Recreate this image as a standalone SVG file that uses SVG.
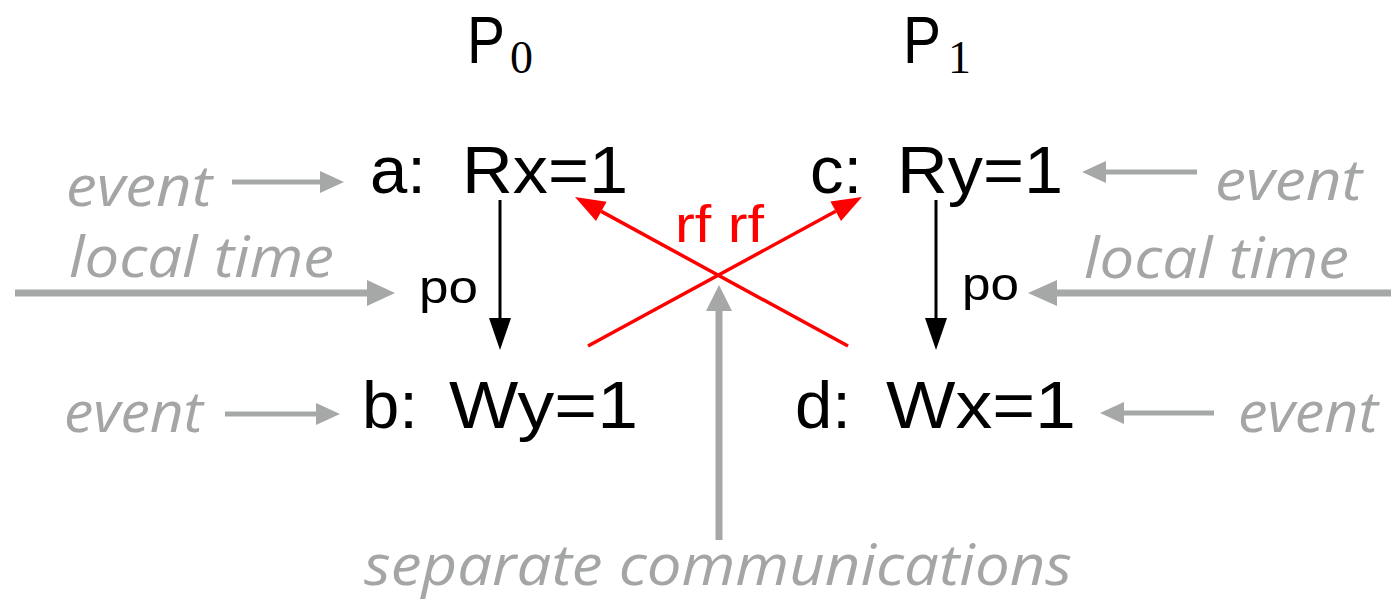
<svg xmlns="http://www.w3.org/2000/svg" width="1391" height="602" viewBox="0 0 1391 602">
<style>
.k{font-family:"Liberation Sans",Arial,sans-serif;fill:#000}
.big{font-size:67px}
.sub{font-family:"Liberation Serif","Times New Roman",serif;font-size:46px;fill:#000}
.po{font-family:"Liberation Sans",Arial,sans-serif;font-size:46px;fill:#000}
.rf{font-family:"Liberation Sans",Arial,sans-serif;font-size:52px;fill:#ff0000}
.g{font-family:"Open Sans","Noto Sans",sans-serif;font-style:italic;font-weight:500;font-size:57px;fill:#a4a6a5}
.gl{stroke:#a6a8a7;fill:none}
.gh{fill:#a6a8a7}
.bl{stroke:#000;stroke-width:3;fill:none}
.rl{stroke:#ff0000;stroke-width:3.5;fill:none}
</style>
<rect width="1391" height="602" fill="#fff"/>
<g id="P0"><text class="k big" x="467" y="63" textLength="38" lengthAdjust="spacingAndGlyphs">P</text><text class="sub" x="510" y="73">0</text></g>
<g id="P1"><text class="k big" x="903" y="63" textLength="38" lengthAdjust="spacingAndGlyphs">P</text><text class="sub" x="948" y="73">1</text></g>
<g id="a"><text class="k big" x="370" y="193">a:</text><text class="k big" x="462" y="193" textLength="166" lengthAdjust="spacingAndGlyphs">Rx=1</text></g>
<g id="c"><text class="k big" x="810" y="193">c:</text><text class="k big" x="897" y="193" textLength="166" lengthAdjust="spacingAndGlyphs">Ry=1</text></g>
<g id="b"><text class="k big" x="362" y="428">b:</text><text class="k big" x="449" y="428" textLength="189" lengthAdjust="spacingAndGlyphs">Wy=1</text></g>
<g id="d"><text class="k big" x="795" y="428">d:</text><text class="k big" x="886" y="428" textLength="190" lengthAdjust="spacingAndGlyphs">Wx=1</text></g>
<g id="labels">
<text class="g" x="66" y="206" textLength="146" lengthAdjust="spacingAndGlyphs">event</text>
<text class="g" x="1215" y="200" textLength="147" lengthAdjust="spacingAndGlyphs">event</text>
<text class="g" x="64" y="432" textLength="139" lengthAdjust="spacingAndGlyphs">event</text>
<text class="g" x="1238" y="432" textLength="140" lengthAdjust="spacingAndGlyphs">event</text>
<text class="g" x="69" y="277" textLength="265" lengthAdjust="spacingAndGlyphs">local time</text>
<text class="g" x="1084" y="278" textLength="265" lengthAdjust="spacingAndGlyphs">local time</text>
<text class="g" x="364" y="585" textLength="708" lengthAdjust="spacingAndGlyphs">separate communications</text>
</g>
<g id="connectors">
<line class="gl" stroke-width="5" x1="232" y1="182" x2="322" y2="182"/><polygon class="gh" points="344,182 320,171 320,193"/>
<line class="gl" stroke-width="5" x1="1197" y1="172" x2="1106" y2="172"/><polygon class="gh" points="1082,172 1106,161 1106,183"/>
<line class="gl" stroke-width="5" x1="225" y1="414" x2="316" y2="414"/><polygon class="gh" points="340,414 316,403 316,425"/>
<line class="gl" stroke-width="5" x1="1214" y1="413" x2="1124" y2="413"/><polygon class="gh" points="1100,413 1124,402 1124,424"/>
<line class="gl" stroke-width="7" x1="15" y1="293" x2="369" y2="293"/><polygon class="gh" points="395,293 367,280 367,306"/>
<line class="gl" stroke-width="7" x1="1391" y1="293" x2="1055" y2="293"/><polygon class="gh" points="1028,293 1057,280 1057,306"/>
<line class="gl" stroke-width="7" x1="719" y1="540" x2="719" y2="309"/><polygon class="gh" points="719,285 706,311 732,311"/>
<line class="bl" x1="500" y1="200" x2="500" y2="320"/><polygon points="500,350 489,318 511,318" fill="#000"/>
<line class="bl" x1="936" y1="200" x2="936" y2="320"/><polygon points="936,350 925,318 947,318" fill="#000"/>
<line class="rl" x1="848" y1="346" x2="601.3" y2="211.4"/><polygon fill="#ff0000" points="575,197 606.6,201.7 596,221.1"/>
<line class="rl" x1="588" y1="346" x2="835.7" y2="211.3"/><polygon fill="#ff0000" points="862,197 841,221 830.4,201.6"/>
<text class="po" x="419" y="303" textLength="59" lengthAdjust="spacingAndGlyphs">po</text>
<text class="po" x="962" y="300" textLength="57" lengthAdjust="spacingAndGlyphs">po</text>
<text class="rf" x="675" y="242" textLength="89" lengthAdjust="spacingAndGlyphs">rf rf</text>
</g>
</svg>
